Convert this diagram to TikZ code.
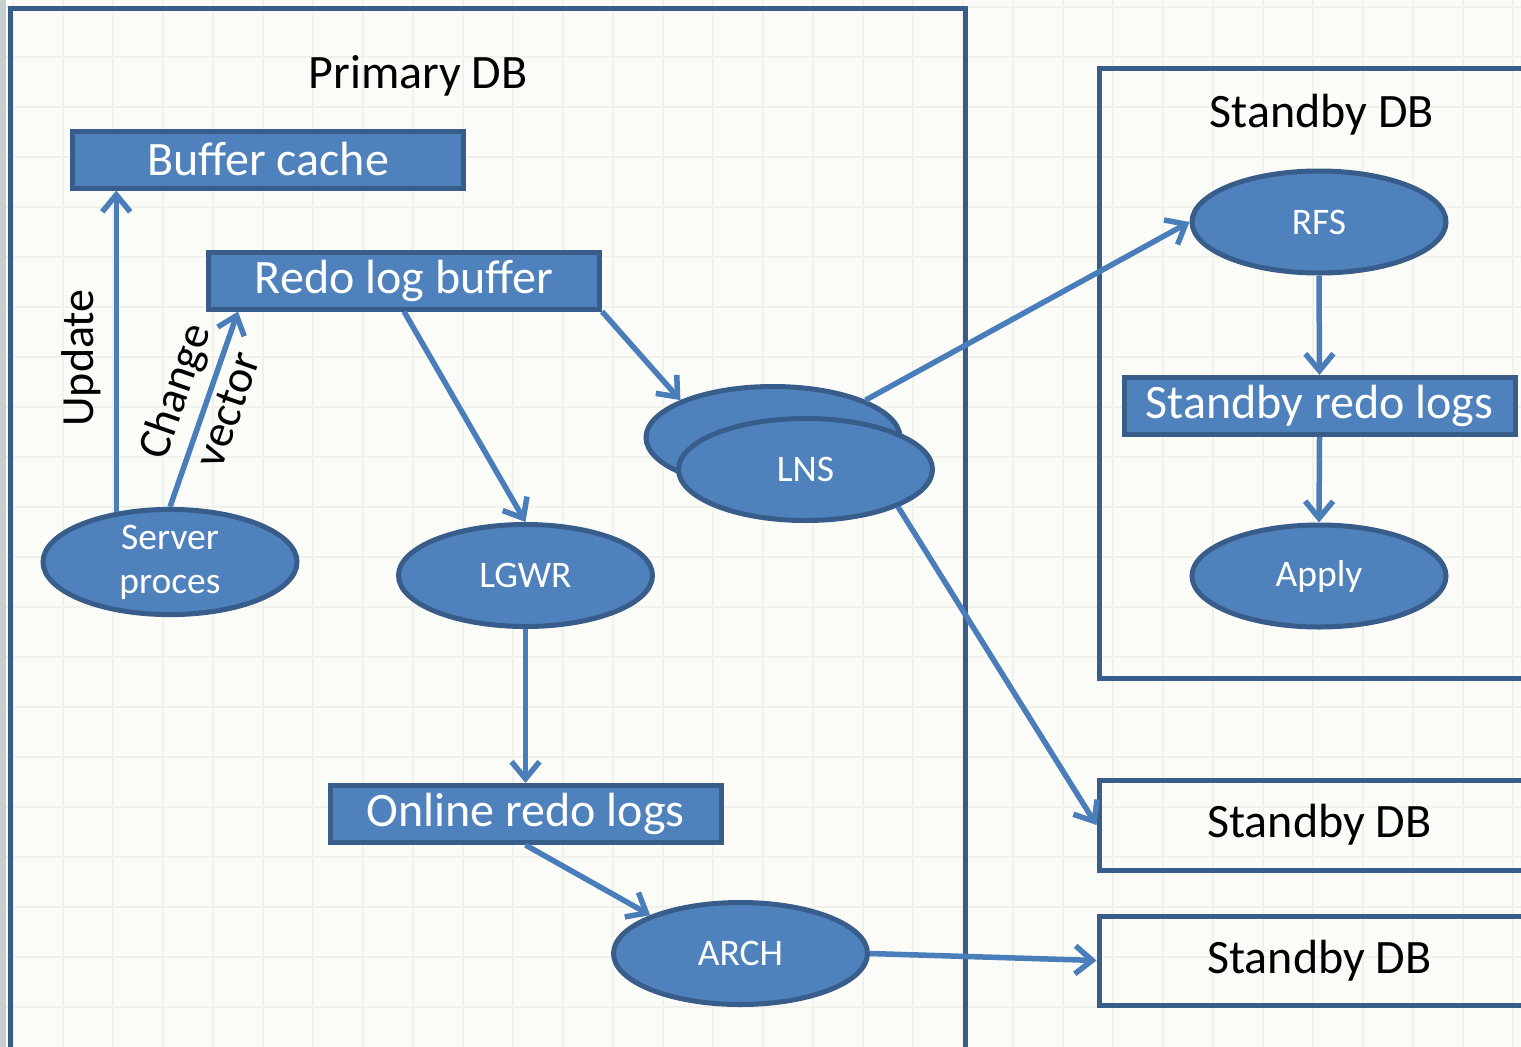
\documentclass[tikz,border=0pt]{standalone}
\usepackage{fontspec}
\setmainfont{Carlito}
\usetikzlibrary{arrows.meta,shapes.geometric}
\definecolor{boxfill}{HTML}{4F81BD}
\definecolor{boxline}{HTML}{385D8A}
\definecolor{arrline}{HTML}{4A7EBB}
\definecolor{paper}{HTML}{FBFCF7}
\definecolor{gridline}{HTML}{F0F1EA}
\definecolor{edgestrip}{HTML}{C5D0CF}
\tikzset{
    memory/.style={
    rectangle,draw=boxline,fill=boxfill,line width=5pt,text=white,
    minimum width=391pt,minimum height=57pt,inner sep=0pt,
    font=\fontsize{48}{56}\selectfont
    },
    proc/.style={
    ellipse,draw=boxline,fill=boxfill,line width=5pt,text=white,
    minimum width=254pt,minimum height=102pt,inner sep=0pt,align=center,
    font=\fontsize{37.5}{44}\selectfont
    },
    dbframe/.style={
    rectangle,draw=boxline,line width=5pt,inner sep=0pt
    },
    dblabel/.style={
    font=\fontsize{48}{56}\selectfont
    },
    flowlabel/.style={
    font=\fontsize{46}{56}\selectfont,align=center
    },
    flow/.style={
    color=arrline,line width=5.5pt,-{Straight Barb[length=17pt,width=28pt]}
    },
}
\begin{document}
\begin{tikzpicture}[x=1pt, y=-1pt]
   \clip (0,0) rectangle (1521,1047);
   \fill[paper] (0,0) rectangle (1521,1047);
   \foreach \gx in {13,63,...,1521} \draw[gridline,line width=2.5pt] (\gx,0) -- (\gx,1047);
   \foreach \gy in {7,57,...,1047} \draw[gridline,line width=2.5pt] (0,\gy) -- (1521,\gy);
   \fill[edgestrip] (0,0) rectangle (6,1047);

   % database frames
   \node[dbframe,minimum width=955pt,minimum height=1092pt] (primary) at (487.5,554) {};
   \node[dblabel] (primarylabel) at (418,76) {Primary DB};
   \node[dbframe,minimum width=441pt,minimum height=610pt] (standby) at (1319.5,373) {};
   \node[dblabel] (standbylabel) at (1322,115) {Standby DB};
   \node[dbframe,dblabel,minimum width=441pt,minimum height=90pt] (standbytwo) at (1319.5,825) {Standby DB};
   \node[dbframe,dblabel,minimum width=441pt,minimum height=89pt] (standbythree) at (1319.5,960.5) {Standby DB};

   % memory and log files
   \node[memory] (buffer) at (268,159.5) {Buffer cache};
   \node[memory] (redo) at (404,280.5) {Redo log buffer};
   \node[memory] (online) at (525.5,814) {Online redo logs};
   \node[memory] (sbredo) at (1319.5,406) {Standby redo logs};

   % processes
   \node[proc] (server) at (170,562) {Server\\proces};
   \node[proc] (lgwr) at (525.5,575.5) {LGWR};
   \node[proc] (lnsback) at (773,437.5) {};
   \node[proc] (lns) at (805.5,469.5) {LNS};
   \node[proc] (arch) at (740.5,953.5) {ARCH};
   \node[proc] (rfs) at (1319,222) {RFS};
   \node[proc] (apply) at (1319,576) {Apply};

   \path[flow]
     (server.137) edge (server.137 |- buffer.south)
     (server.north) edge ([xshift=32pt]redo.south west)
     (redo.south) edge (lgwr.north)
     (redo.south east) edge (lnsback.158)
     (lgwr.south) edge (online.north)
     (online.south) edge (arch.157)
     (arch.east) edge (standbythree.west)
     (lnsback.22) edge (rfs.west)
     (lns.-22) edge (standbytwo.west)
     (rfs.south) edge (sbredo.north)
     (sbredo.south) edge (apply.north);

   \node[flowlabel,rotate=90] (update) at (81,358) {Update};
   \node[flowlabel,rotate=70.8] (change) at (200,400) {Change\\vector};
\end{tikzpicture}
\end{document}
